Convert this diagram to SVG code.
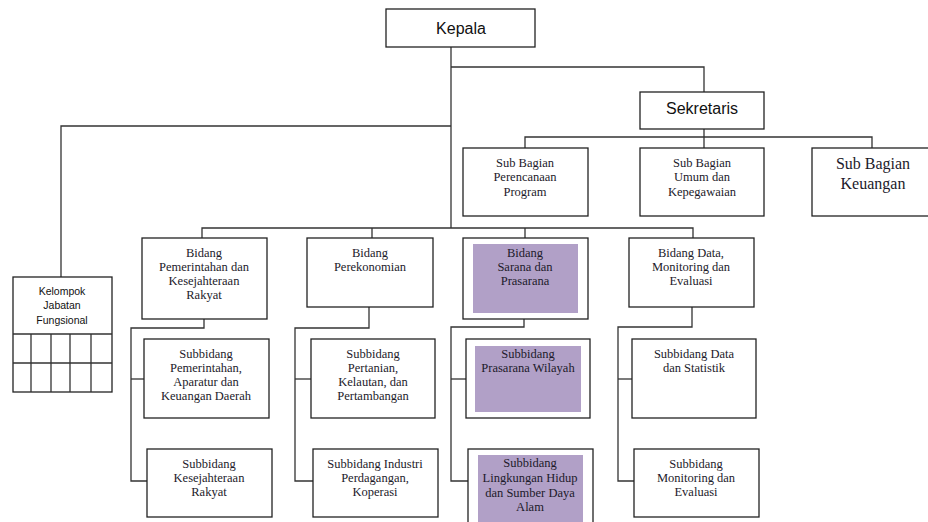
<svg xmlns="http://www.w3.org/2000/svg" width="928" height="522" viewBox="0 0 928 522">
<style>
.box{fill:#fff;stroke:#222;stroke-width:1.3}
.pur{fill:#b1a0c7;stroke:none}
.ln{fill:none;stroke:#333;stroke-width:1.3}
.s{font-family:"Liberation Serif","Times New Roman",serif;font-size:12.5px;fill:#1c1a2a;text-anchor:middle}
.big{font-size:16px}
.a{font-family:"Liberation Sans",Arial,sans-serif;fill:#111;text-anchor:middle}
</style>
<rect width="928" height="522" fill="#fff"/>
<g id="connectors">
<polyline class="ln" points="451,47 451,228"/>
<polyline class="ln" points="451,67 704,67 704,92"/>
<polyline class="ln" points="451,126 61,126 61,277"/>
<polyline class="ln" points="704,129 704,137"/>
<polyline class="ln" points="525,148 525,137 872,137 872,148"/>
<polyline class="ln" points="704,137 704,148"/>
<polyline class="ln" points="202,238 202,228 693,228 693,238"/>
<polyline class="ln" points="372,228 372,238"/>
<polyline class="ln" points="525,228 525,238"/>
<polyline class="ln" points="204,319 204,328 131,328 131,481 147,481"/>
<polyline class="ln" points="131,379 144,379"/>
<polyline class="ln" points="369,307 369,328 295,328 295,481 313,481"/>
<polyline class="ln" points="295,379 311,379"/>
<polyline class="ln" points="524,319 524,327 451,327 451,481 468,481"/>
<polyline class="ln" points="451,379 466,379"/>
<polyline class="ln" points="692,307 692,327 618,327 618,481 634,481"/>
<polyline class="ln" points="618,379 632,379"/>
</g>
<g id="kepala"><rect class="box" x="386" y="9" width="149" height="38"/><text class="a" x="461" y="34" font-size="16">Kepala</text></g>
<g id="sekretaris"><rect class="box" x="640" y="92" width="124" height="37"/><text class="a" x="702" y="114" font-size="16">Sekretaris</text></g>
<g id="sub-perencanaan"><rect class="box" x="463" y="148" width="125" height="68"/><text class="s" x="525" y="167">Sub Bagian</text><text class="s" x="525" y="181">Perencanaan</text><text class="s" x="525" y="196">Program</text></g>
<g id="sub-umum"><rect class="box" x="640" y="148" width="124" height="68"/><text class="s" x="702" y="167">Sub Bagian</text><text class="s" x="702" y="181">Umum dan</text><text class="s" x="702" y="196">Kepegawaian</text></g>
<g id="sub-keuangan"><rect class="box" x="812" y="148" width="124" height="68"/><text class="s big" x="873" y="169">Sub Bagian</text><text class="s big" x="873" y="189">Keuangan</text></g>
<g id="kelompok"><rect class="box" x="13" y="277" width="99" height="115"/>
<path class="ln" d="M13,334H112M13,363H112M31,334V392M51,334V392M70,334V392M91,334V392"/>
<text class="a" x="62" y="295" font-size="10.5" fill="#1a1a40">Kelompok</text><text class="a" x="62" y="309" font-size="10.5" fill="#1a1a40">Jabatan</text><text class="a" x="62" y="324" font-size="10.5" fill="#1a1a40">Fungsional</text></g>
<g id="bidang-pemerintahan"><rect class="box" x="142" y="238" width="125" height="81"/><text class="s" x="204" y="257">Bidang</text><text class="s" x="204" y="271">Pemerintahan dan</text><text class="s" x="204" y="285">Kesejahteraan</text><text class="s" x="204" y="299">Rakyat</text></g>
<g id="bidang-perekonomian"><rect class="box" x="307" y="238" width="126" height="69"/><text class="s" x="370" y="257">Bidang</text><text class="s" x="370" y="271">Perekonomian</text></g>
<g id="bidang-sarana"><rect class="box" x="463" y="238" width="125" height="81"/><rect class="pur" x="473" y="244" width="105" height="69"/><text class="s" x="525" y="257">Bidang</text><text class="s" x="525" y="271">Sarana dan</text><text class="s" x="525" y="285">Prasarana</text></g>
<g id="bidang-data"><rect class="box" x="629" y="238" width="125" height="69"/><text class="s" x="691" y="257">Bidang Data,</text><text class="s" x="691" y="271">Monitoring dan</text><text class="s" x="691" y="285">Evaluasi</text></g>
<g id="subbidang-pemerintahan"><rect class="box" x="144" y="339" width="125" height="79"/><text class="s" x="206" y="358">Subbidang</text><text class="s" x="206" y="372">Pemerintahan,</text><text class="s" x="206" y="386">Aparatur dan</text><text class="s" x="206" y="400">Keuangan Daerah</text></g>
<g id="subbidang-kesejahteraan"><rect class="box" x="147" y="449" width="125" height="68"/><text class="s" x="209" y="468">Subbidang</text><text class="s" x="209" y="482">Kesejahteraan</text><text class="s" x="209" y="496">Rakyat</text></g>
<g id="subbidang-pertanian"><rect class="box" x="311" y="339" width="124" height="79"/><text class="s" x="373" y="358">Subbidang</text><text class="s" x="373" y="372">Pertanian,</text><text class="s" x="373" y="386">Kelautan, dan</text><text class="s" x="373" y="400">Pertambangan</text></g>
<g id="subbidang-industri"><rect class="box" x="313" y="449" width="125" height="68"/><text class="s" x="375" y="468">Subbidang Industri</text><text class="s" x="375" y="482">Perdagangan,</text><text class="s" x="375" y="496">Koperasi</text></g>
<g id="subbidang-prasarana"><rect class="box" x="466" y="339" width="124" height="79"/><rect class="pur" x="475" y="346" width="106" height="66"/><text class="s" x="528" y="358">Subbidang</text><text class="s" x="528" y="372">Prasarana Wilayah</text></g>
<g id="subbidang-lingkungan"><rect class="box" x="468" y="449" width="125" height="80"/><rect class="pur" x="478" y="455" width="105" height="67"/><text class="s" x="530" y="467">Subbidang</text><text class="s" x="530" y="482">Lingkungan Hidup</text><text class="s" x="530" y="497">dan Sumber Daya</text><text class="s" x="530" y="511">Alam</text></g>
<g id="subbidang-data"><rect class="box" x="632" y="339" width="124" height="79"/><text class="s" x="694" y="358">Subbidang Data</text><text class="s" x="694" y="372">dan Statistik</text></g>
<g id="subbidang-monitoring"><rect class="box" x="634" y="449" width="125" height="68"/><text class="s" x="696" y="468">Subbidang</text><text class="s" x="696" y="482">Monitoring dan</text><text class="s" x="696" y="496">Evaluasi</text></g>
</svg>
